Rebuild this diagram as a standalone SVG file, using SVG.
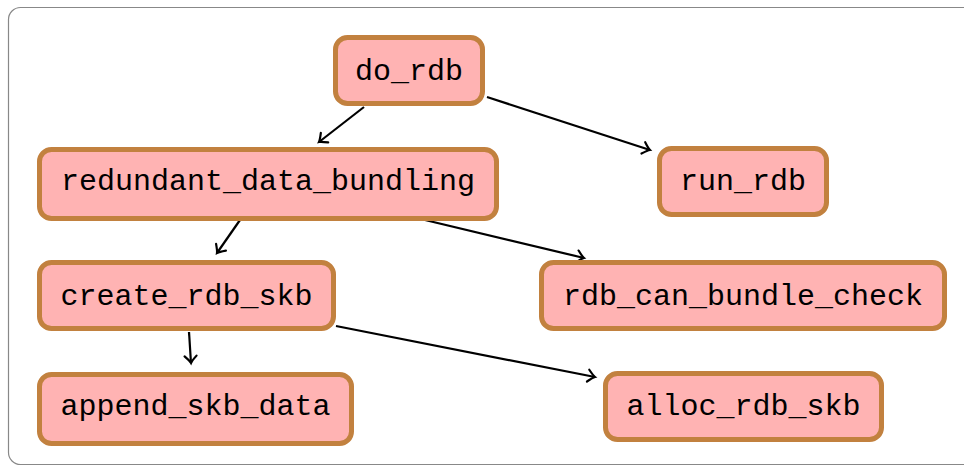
<svg xmlns="http://www.w3.org/2000/svg" width="964" height="469" viewBox="0 0 964 469">
<style>
.node rect{fill:#ffb3b3;stroke:#c2813f;stroke-width:5}
.node text{font-family:"Liberation Mono","DejaVu Sans Mono",monospace;font-size:30px;fill:#000;text-anchor:middle}
.edge{stroke:#000;stroke-width:2.2;fill:none;marker-end:url(#arr)}
</style>
<defs>
<marker id="arr" markerUnits="userSpaceOnUse" markerWidth="20" markerHeight="20" viewBox="-10 -10 20 20" refX="0" refY="0" orient="auto">
<path d="M-7,-6 Q-2,-1 0,0 Q-2,1 -7,6" fill="none" stroke="#000" stroke-width="2.2" stroke-linecap="round"/>
</marker>
</defs>
<rect x="8.5" y="7.5" width="980" height="457" rx="12" fill="#fff" stroke="#888" stroke-width="1.2"/>
<g id="connectors">
<line class="edge" x1="364" y1="107" x2="319" y2="142"/>
<line class="edge" x1="487" y1="97" x2="650" y2="150"/>
<line class="edge" x1="240" y1="220" x2="217" y2="253"/>
<line class="edge" x1="425" y1="220" x2="584" y2="258"/>
<line class="edge" x1="189" y1="332" x2="191" y2="363"/>
<line class="edge" x1="336" y1="326" x2="595" y2="377"/>
</g>
<g id="do_rdb" class="node"><rect x="335.5" y="37.5" width="147" height="66" rx="12"/><text x="409" y="80">do_rdb</text></g>
<g id="redundant_data_bundling" class="node"><rect x="39.5" y="149.5" width="457" height="69" rx="12"/><text x="268" y="190">redundant_data_bundling</text></g>
<g id="run_rdb" class="node"><rect x="659.5" y="148.5" width="167" height="66" rx="12"/><text x="743" y="190">run_rdb</text></g>
<g id="create_rdb_skb" class="node"><rect x="39.5" y="262.5" width="294" height="66" rx="12"/><text x="186.5" y="305">create_rdb_skb</text></g>
<g id="rdb_can_bundle_check" class="node"><rect x="541.5" y="262.5" width="403" height="66" rx="12"/><text x="743" y="305">rdb_can_bundle_check</text></g>
<g id="append_skb_data" class="node"><rect x="39.5" y="374.5" width="312" height="69" rx="12"/><text x="195.5" y="415">append_skb_data</text></g>
<g id="alloc_rdb_skb" class="node"><rect x="605.5" y="373.5" width="276" height="66" rx="12"/><text x="743.5" y="415">alloc_rdb_skb</text></g>
</svg>
